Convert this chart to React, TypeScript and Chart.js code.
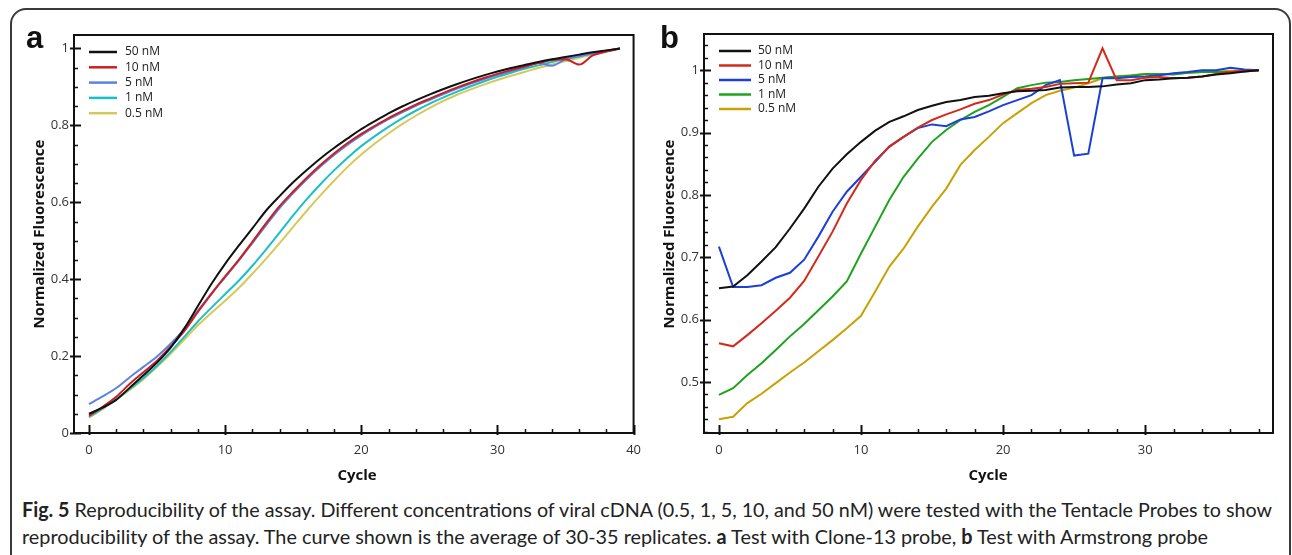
import React, { useEffect, useLayoutEffect, useRef } from "react";
import { Chart, registerables } from "chart.js";

Chart.register(...registerables);

// ---------- Panel a (Clone-13 probe) ----------
const cyclesA = [0, 1, 2, 3, 4, 5, 6, 7, 8, 9, 10, 11, 12, 13, 14, 15, 16, 17, 18, 19, 20, 21, 22, 23, 24, 25, 26, 27, 28, 29, 30, 31, 32, 33, 34, 35, 36, 37, 38, 39];
const a50nM = [0.050, 0.066, 0.086, 0.118, 0.150, 0.183, 0.222, 0.272, 0.330, 0.388, 0.440, 0.487, 0.532, 0.578, 0.616, 0.652, 0.684, 0.714, 0.741, 0.766, 0.790, 0.811, 0.831, 0.849, 0.865, 0.880, 0.894, 0.907, 0.919, 0.930, 0.940, 0.949, 0.957, 0.965, 0.972, 0.978, 0.984, 0.990, 0.995, 1.000];
const a10nM = [0.045, 0.068, 0.094, 0.128, 0.158, 0.188, 0.225, 0.265, 0.315, 0.362, 0.407, 0.450, 0.497, 0.545, 0.590, 0.628, 0.664, 0.697, 0.727, 0.754, 0.778, 0.799, 0.819, 0.837, 0.854, 0.869, 0.884, 0.898, 0.911, 0.923, 0.934, 0.944, 0.953, 0.962, 0.970, 0.972, 0.958, 0.982, 0.992, 1.000];
const a5nM = [0.075, 0.095, 0.117, 0.145, 0.172, 0.199, 0.232, 0.270, 0.318, 0.363, 0.405, 0.448, 0.494, 0.540, 0.585, 0.624, 0.660, 0.693, 0.723, 0.750, 0.774, 0.796, 0.816, 0.834, 0.851, 0.866, 0.881, 0.895, 0.908, 0.920, 0.931, 0.941, 0.951, 0.962, 0.955, 0.972, 0.980, 0.987, 0.994, 1.000];
const a1nM = [0.042, 0.064, 0.089, 0.115, 0.143, 0.175, 0.211, 0.250, 0.290, 0.326, 0.361, 0.396, 0.435, 0.477, 0.521, 0.566, 0.608, 0.647, 0.683, 0.716, 0.746, 0.772, 0.796, 0.818, 0.838, 0.856, 0.872, 0.887, 0.901, 0.914, 0.926, 0.937, 0.947, 0.956, 0.965, 0.973, 0.980, 0.987, 0.994, 1.000];
const a05nM = [0.040, 0.062, 0.087, 0.112, 0.140, 0.172, 0.206, 0.243, 0.280, 0.313, 0.344, 0.377, 0.414, 0.453, 0.494, 0.536, 0.578, 0.618, 0.656, 0.692, 0.724, 0.753, 0.779, 0.803, 0.825, 0.845, 0.863, 0.879, 0.893, 0.906, 0.918, 0.929, 0.939, 0.949, 0.958, 0.967, 0.976, 0.984, 0.992, 1.000];
const xTicksA = [0, 10, 20, 30, 40];
const yTicksA = [0, 0.2, 0.4, 0.6, 0.8, 1];

// ---------- Panel b (Armstrong probe) ----------
const cyclesB = [0, 1, 2, 3, 4, 5, 6, 7, 8, 9, 10, 11, 12, 13, 14, 15, 16, 17, 18, 19, 20, 21, 22, 23, 24, 25, 26, 27, 28, 29, 30, 31, 32, 33, 34, 35, 36, 37, 38];
const b50nM = [0.650, 0.653, 0.671, 0.693, 0.716, 0.746, 0.778, 0.813, 0.842, 0.865, 0.885, 0.903, 0.917, 0.926, 0.936, 0.943, 0.949, 0.952, 0.957, 0.959, 0.963, 0.966, 0.967, 0.968, 0.972, 0.973, 0.973, 0.974, 0.977, 0.979, 0.984, 0.985, 0.987, 0.988, 0.990, 0.993, 0.995, 0.998, 1.000];
const b10nM = [0.562, 0.557, 0.575, 0.594, 0.614, 0.635, 0.662, 0.701, 0.741, 0.786, 0.824, 0.855, 0.877, 0.893, 0.908, 0.920, 0.929, 0.937, 0.946, 0.952, 0.961, 0.968, 0.970, 0.973, 0.978, 0.979, 0.980, 1.035, 0.984, 0.984, 0.988, 0.989, 0.987, 0.988, 0.990, 0.994, 0.997, 0.999, 1.000];
const b5nM = [0.717, 0.652, 0.652, 0.655, 0.667, 0.675, 0.696, 0.733, 0.773, 0.805, 0.829, 0.853, 0.878, 0.893, 0.907, 0.913, 0.910, 0.921, 0.925, 0.934, 0.944, 0.952, 0.960, 0.976, 0.984, 0.863, 0.866, 0.987, 0.987, 0.989, 0.990, 0.992, 0.995, 0.997, 1.000, 1.000, 1.004, 1.001, 1.000];
const b1nM = [0.479, 0.490, 0.511, 0.530, 0.551, 0.573, 0.593, 0.615, 0.637, 0.661, 0.706, 0.749, 0.792, 0.829, 0.858, 0.885, 0.904, 0.920, 0.933, 0.944, 0.957, 0.971, 0.976, 0.980, 0.981, 0.984, 0.986, 0.988, 0.990, 0.991, 0.994, 0.994, 0.993, 0.996, 0.997, 0.997, 0.997, 0.998, 1.000];
const b05nM = [0.440, 0.444, 0.466, 0.481, 0.498, 0.515, 0.531, 0.549, 0.567, 0.586, 0.606, 0.645, 0.685, 0.714, 0.749, 0.781, 0.810, 0.848, 0.872, 0.893, 0.915, 0.931, 0.947, 0.960, 0.967, 0.972, 0.979, 0.987, 0.990, 0.992, 0.994, 0.994, 0.994, 0.996, 0.997, 0.998, 0.999, 0.999, 1.000];
const xTicksB = [0, 10, 20, 30];
const yTicksB = [0.5, 0.6, 0.7, 0.8, 0.9, 1];

const seriesLabels = ["50 nM", "10 nM", "5 nM", "1 nM", "0.5 nM"];
const colorsA = ["#111111", "#cc2020", "#5a82e6", "#1dbfc6", "#d6c85a"];
const colorsB = ["#111111", "#d32a1c", "#1b3fd8", "#1fa21f", "#c8a205"];

const TICK_FONT = { family: "'Open Sans', sans-serif", size: 13 };

type PanelCfg = {
  xs: number[];
  series: number[][];
  colors: string[];
  xMin: number; xMax: number; yMin: number; yMax: number;
  xTicks: number[]; yTicks: number[];
  xMinor: number; xRatio: number; yMinor: number; yRatio: number;
  padTop: number; padRight: number; yWidth: number; xHeight: number;
  legend: { lx0: number; lx1: number; tx: number; ty: number; dy: number };
  smooth: boolean;
};

function framePlugin(cfg: PanelCfg) {
  return {
    id: "frameTicksLegend",
    afterDraw(chart: any) {
      const { ctx, chartArea } = chart;
      const { left, top, right, bottom } = chartArea;
      const xs = chart.scales.x;
      const ys = chart.scales.y;
      ctx.save();
      ctx.strokeStyle = "#111";
      ctx.lineWidth = 2;
      ctx.strokeRect(left, top, right - left, bottom - top);
      // x ticks (inside)
      const xi0 = Math.ceil(cfg.xMin / cfg.xMinor);
      const xi1 = Math.floor(cfg.xMax / cfg.xMinor + 1e-9);
      for (let i = xi0; i <= xi1; i++) {
        const px = Math.round(xs.getPixelForValue(i * cfg.xMinor)) + 0.5;
        const major = i % cfg.xRatio === 0;
        ctx.strokeStyle = "#111";
        ctx.lineWidth = major ? 2 : 1.5;
        ctx.beginPath();
        ctx.moveTo(px, bottom + (major ? 2 : 0));
        ctx.lineTo(px, bottom - (major ? 8 : 4));
        ctx.stroke();
      }
      // y ticks
      const yi0 = Math.ceil(cfg.yMin / cfg.yMinor - 1e-9);
      const yi1 = Math.floor(cfg.yMax / cfg.yMinor + 1e-9);
      for (let i = yi0; i <= yi1; i++) {
        const py = Math.round(ys.getPixelForValue(i * cfg.yMinor)) + 0.5;
        const major = i % cfg.yRatio === 0;
        ctx.strokeStyle = "#111";
        ctx.lineWidth = major ? 2 : 1.5;
        ctx.beginPath();
        ctx.moveTo(left - (major ? 4 : 0), py);
        ctx.lineTo(left + (major ? 7 : 4), py);
        ctx.stroke();
      }
      // legend
      const L = cfg.legend;
      ctx.font = "12px 'Open Sans', sans-serif";
      ctx.textBaseline = "middle";
      ctx.textAlign = "left";
      chart.data.datasets.forEach((ds: any, k: number) => {
        const y = top + L.ty + k * L.dy;
        ctx.strokeStyle = ds.borderColor;
        ctx.lineWidth = 2.5;
        ctx.beginPath();
        ctx.moveTo(left + L.lx0, y);
        ctx.lineTo(left + L.lx1, y);
        ctx.stroke();
        ctx.fillStyle = "#222";
        ctx.fillText(ds.label, left + L.tx, y);
      });
      ctx.restore();
    },
  };
}

function fmt(v: number) {
  return String(Number(v.toFixed(2)));
}

function Panel({ cfg, style }: { cfg: PanelCfg; style: React.CSSProperties }) {
  const ref = useRef<HTMLCanvasElement | null>(null);
  useEffect(() => {
    if (!ref.current) return;
    const chart = new Chart(ref.current, {
      type: "line",
      data: {
        datasets: cfg.series.map((vals, k) => ({
          label: seriesLabels[k],
          data: cfg.xs.map((x, i) => ({ x, y: vals[i] })),
          borderColor: cfg.colors[k],
          backgroundColor: cfg.colors[k],
          borderWidth: 2,
          pointRadius: 0,
          fill: false,
          ...(cfg.smooth ? { cubicInterpolationMode: "monotone" as const } : { tension: 0 }),
        })),
      },
      options: {
        animation: false,
        responsive: false,
        maintainAspectRatio: false,
        events: [],
        layout: { padding: { top: cfg.padTop, right: cfg.padRight, left: 0, bottom: 0 }, autoPadding: false },
        plugins: { legend: { display: false }, tooltip: { enabled: false } },
        scales: {
          x: {
            type: "linear",
            min: cfg.xMin,
            max: cfg.xMax,
            grid: { display: false, drawTicks: false },
            border: { display: false },
            ticks: { font: TICK_FONT, color: "#333", padding: 9, maxRotation: 0, autoSkip: false, callback: (v: any) => fmt(Number(v)) },
            afterBuildTicks: (s: any) => { s.ticks = cfg.xTicks.map((v) => ({ value: v })); },
            afterFit: (s: any) => { s.height = cfg.xHeight; },
          },
          y: {
            type: "linear",
            min: cfg.yMin,
            max: cfg.yMax,
            grid: { display: false, drawTicks: false },
            border: { display: false },
            ticks: { font: TICK_FONT, color: "#333", padding: 5, autoSkip: false, callback: (v: any) => fmt(Number(v)) },
            afterBuildTicks: (s: any) => { s.ticks = cfg.yTicks.map((v) => ({ value: v })); },
            afterFit: (s: any) => { s.width = cfg.yWidth; },
          },
        },
      },
      plugins: [framePlugin(cfg)],
    } as any);
    return () => chart.destroy();
  }, []);
  return <canvas ref={ref} width={640} height={480} style={{ position: "absolute", width: 640, height: 480, ...style }} />;
}

const cfgA: PanelCfg = {
  xs: cyclesA,
  series: [a50nM, a10nM, a5nM, a1nM, a05nM],
  colors: colorsA,
  xMin: -1.1, xMax: 40, yMin: 0, yMax: 1.035,
  xTicks: xTicksA, yTicks: yTicksA,
  xMinor: 2, xRatio: 5, yMinor: 0.05, yRatio: 4,
  padTop: 25, padRight: 9, yWidth: 64, xHeight: 57,
  legend: { lx0: 15, lx1: 43, tx: 51, ty: 17, dy: 15.3 },
  smooth: true,
};

const cfgB: PanelCfg = {
  xs: cyclesB,
  series: [b50nM, b10nM, b5nM, b1nM, b05nM],
  colors: colorsB,
  xMin: -1.05, xMax: 39, yMin: 0.418, yMax: 1.058,
  xTicks: xTicksB, yTicks: yTicksB,
  xMinor: 2, xRatio: 5, yMinor: 0.02, yRatio: 5,
  padTop: 24, padRight: 17, yWidth: 54, xHeight: 57,
  legend: { lx0: 15, lx1: 47, tx: 54, ty: 17, dy: 14.5 },
  smooth: false,
};

const titleFont: React.CSSProperties = { fontFamily: "'Open Sans', sans-serif", fontWeight: 700, fontSize: 15, color: "#111", whiteSpace: "nowrap", lineHeight: "20px" };

function Centered({ x, y, rotate, children }: { x: number; y: number; rotate?: boolean; children: React.ReactNode }) {
  return (
    <div style={{ position: "absolute", left: x, top: y, width: 0, height: 0 }}>
      <div style={{ position: "absolute", left: 0, top: 0, transform: `translate(-50%,-50%)${rotate ? " rotate(-90deg)" : ""}`, ...titleFont }}>{children}</div>
    </div>
  );
}

export default function App() {
  const l1 = useRef<HTMLSpanElement | null>(null);
  const l2 = useRef<HTMLSpanElement | null>(null);
  useLayoutEffect(() => {
    const fit = (el: HTMLSpanElement | null, target: number) => {
      if (!el) return;
      el.style.transform = "none";
      const w = el.getBoundingClientRect().width;
      if (w > 0) el.style.transform = `scaleX(${target / w})`;
    };
    fit(l1.current, 1250);
    fit(l2.current, 1186);
  }, []);
  const capStyle: React.CSSProperties = {
    position: "absolute", left: 22, whiteSpace: "nowrap", fontFamily: "Lato, 'Open Sans', sans-serif",
    fontSize: 20, lineHeight: "24px", color: "#222", transformOrigin: "0 0", display: "inline-block",
  };
  return (
    <div style={{ position: "absolute", left: 0, top: 0, width: 1292, height: 555, overflow: "hidden", background: "#fff" }}>
      <div style={{ position: "absolute", left: 10, top: 8, width: 1281, height: 562, border: "2px solid #3a3a3a", borderRadius: 16, boxSizing: "border-box" }} />
      <Panel cfg={cfgA} style={{ left: 10, top: 10 }} />
      <Panel cfg={cfgB} style={{ left: 650, top: 10 }} />
      <div style={{ position: "absolute", left: 26, top: 22, fontFamily: "'Liberation Sans', Arial, sans-serif", fontWeight: 700, fontSize: 31, lineHeight: "31px", color: "#111" }}>a</div>
      <div style={{ position: "absolute", left: 660, top: 22, fontFamily: "'Liberation Sans', Arial, sans-serif", fontWeight: 700, fontSize: 31, lineHeight: "31px", color: "#111" }}>b</div>
      <Centered x={38} y={234} rotate>Normalized Fluorescence</Centered>
      <Centered x={668} y={234} rotate>Normalized Fluorescence</Centered>
      <Centered x={357} y={474}>Cycle</Centered>
      <Centered x={988} y={474}>Cycle</Centered>
      <span ref={l1} style={{ ...capStyle, top: 497 }}>
        <b>Fig. 5</b> Reproducibility of the assay. Different concentrations of viral cDNA (0.5, 1, 5, 10, and 50 nM) were tested with the Tentacle Probes to show
      </span>
      <span ref={l2} style={{ ...capStyle, top: 524 }}>
        reproducibility of the assay. The curve shown is the average of 30-35 replicates. <b>a</b> Test with Clone-13 probe, <b>b</b> Test with Armstrong probe
      </span>
    </div>
  );
}
